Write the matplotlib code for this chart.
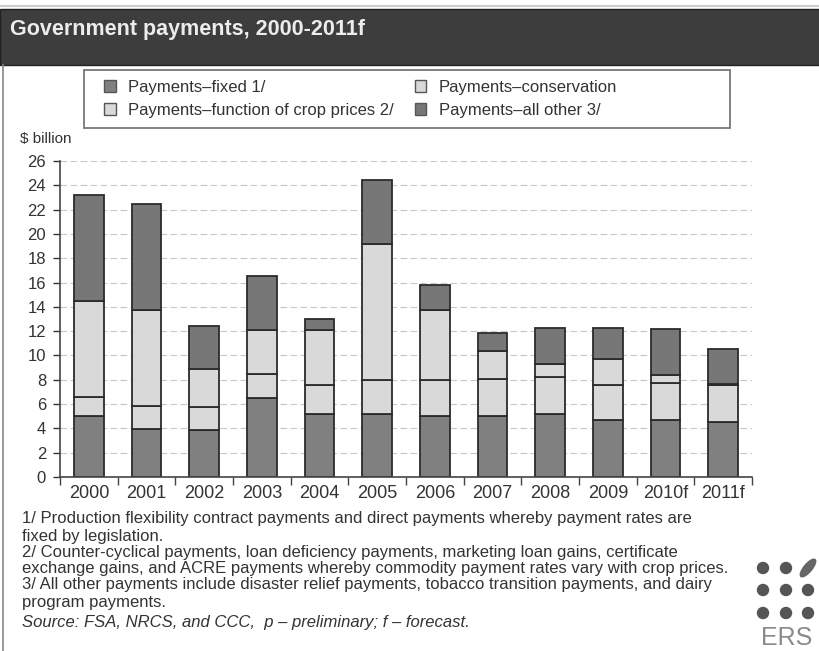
import matplotlib
matplotlib.use("Agg")
import matplotlib.pyplot as plt
import numpy as np
from matplotlib.patches import Rectangle, Circle, Ellipse

plt.rcParams['font.family'] = ['Liberation Sans', 'DejaVu Sans']

# data ($ billion)
years = ["2000", "2001", "2002", "2003", "2004", "2005", "2006", "2007", "2008", "2009", "2010f", "2011f"]
fixed = [5.02, 3.98, 3.90, 6.50, 5.16, 5.16, 5.02, 5.02, 5.21, 4.72, 4.72, 4.53]
conservation = [1.56, 1.84, 1.90, 1.97, 2.38, 2.80, 2.93, 3.07, 3.02, 2.82, 3.01, 3.01]
crop_prices = [7.87, 7.90, 3.10, 3.65, 4.58, 11.17, 5.82, 2.25, 1.10, 2.14, 0.69, 0.10]
all_other = [8.78, 8.78, 3.51, 4.39, 0.85, 5.34, 2.06, 1.51, 2.93, 2.61, 3.73, 2.93]

legend_labels = ["Payments\u2013fixed 1/", "Payments\u2013function of crop prices 2/",
                 "Payments\u2013conservation", "Payments\u2013all other 3/"]

footnotes = [
    "1/ Production flexibility contract payments and direct payments whereby payment rates are",
    "fixed by legislation.",
    "2/ Counter-cyclical payments, loan deficiency payments, marketing loan gains, certificate",
    "exchange gains, and ACRE payments whereby commodity payment rates vary with crop prices.",
    "3/ All other payments include disaster relief payments, tobacco transition payments, and dairy",
    "program payments.",
]

W, H = 820, 651
DARK = "#808080"
DARK2 = "#777777"
LIGHT = "#d9d9d9"
EDGE = "#2b2b2b"
TXT = "#333333"


def fx(px):
    return px / W


def fy(py):
    return 1 - py / H


fig = plt.figure(figsize=(8.2, 6.51), dpi=100)

# title banner
fig.add_artist(plt.Line2D([0, 1], [fy(6), fy(6)], transform=fig.transFigure,
                          color="#cccccc", lw=1.5))
fig.patches.append(Rectangle((0, fy(65)), 1, fy(9) - fy(65), transform=fig.transFigure,
                             facecolor="#3d3d3d", edgecolor="#222222", lw=1))
fig.text(fx(10), fy(29), "Government payments, 2000-2011f", color="#ececec",
         fontsize=15.5, fontweight="bold", va="center", ha="left")
# left frame line
fig.add_artist(plt.Line2D([fx(3), fx(3)], [fy(65), 0], transform=fig.transFigure,
                          color="#888888", lw=1.2))

ax = fig.add_axes([fx(60), fy(477), fx(752) - fx(60), fy(161) - fy(477)])
x = np.arange(len(years))
bw = 0.52
kw = dict(width=bw, edgecolor=EDGE, linewidth=1.3)
b1 = ax.bar(x, fixed, color=DARK, **kw)
bottom = np.array(fixed)
b2 = ax.bar(x, conservation, bottom=bottom, color=LIGHT, **kw)
bottom = bottom + np.array(conservation)
b3 = ax.bar(x, crop_prices, bottom=bottom, color=LIGHT, **kw)
bottom = bottom + np.array(crop_prices)
b4 = ax.bar(x, all_other, bottom=bottom, color=DARK2, **kw)

ax.set_xlim(-0.5, len(years) - 0.5)
ax.set_ylim(0, 26)
ax.set_yticks(np.arange(0, 27, 2))
ax.tick_params(axis="y", labelsize=12, colors=TXT, length=5, width=1, pad=5)
ax.yaxis.grid(True, linestyle=(0, (6, 3)), color="#c8c8c8", lw=0.8)
ax.set_axisbelow(True)

# category separators as major ticks, labels on minor ticks
ax.set_xticks(np.arange(-0.5, len(years), 1))
ax.set_xticklabels([])
ax.set_xticks(x, minor=True)
ax.set_xticklabels(years, minor=True)
ax.tick_params(axis="x", which="major", length=6, width=1, color="#444444", direction="out")
ax.tick_params(axis="x", which="minor", length=0, labelsize=13, labelcolor=TXT, pad=6)

for s in ["top", "right"]:
    ax.spines[s].set_visible(False)
for s in ["left", "bottom"]:
    ax.spines[s].set_color("#444444")
    ax.spines[s].set_linewidth(1.2)

fig.text(fx(20), fy(139), "$ billion", fontsize=11, color=TXT, va="center")

# legend box
fig.patches.append(Rectangle((fx(84), fy(128)), fx(730) - fx(84), fy(70) - fy(128),
                             transform=fig.transFigure, facecolor="white",
                             edgecolor="#777777", lw=1.3))
leg = fig.legend([b1, b3, b2, b4], legend_labels, ncol=2,
                 loc="upper left", bbox_to_anchor=(fx(104), fy(80)),
                 fontsize=12, frameon=False, handlelength=0.7, handleheight=0.7,
                 handletextpad=0.75, columnspacing=1.25, borderpad=0, borderaxespad=0,
                 labelspacing=0.48, labelcolor=TXT)
for h in leg.legend_handles:
    h.set_edgecolor("#555555")
    h.set_linewidth(1)

# footnotes
ys = [519, 536, 552, 569, 585, 602]
for yy, line in zip(ys, footnotes):
    fig.text(fx(22), fy(yy), line, fontsize=12, color=TXT, va="center")
fig.text(fx(22), fy(623), "Source: FSA, NRCS, and CCC,  p \u2013 preliminary; f \u2013 forecast.",
         fontsize=12, color=TXT, va="center", style="italic")

# ERS logo
lax = fig.add_axes([0, 0, 1, 1], facecolor="none")
lax.set_xlim(0, W)
lax.set_ylim(H, 0)
lax.axis("off")
for cx in [763, 786, 808]:
    for cy in [568, 590, 613]:
        if cx == 808 and cy == 568:
            lax.add_patch(Ellipse((cx, cy), 22, 8, angle=-50, color="#666666"))
        else:
            lax.add_patch(Circle((cx, cy), 5.5, color="#555555"))
lax.text(787, 638, "ERS", fontsize=18, color="#8a8a8a", ha="center", va="center")

fig.savefig("out.png", dpi=100)
